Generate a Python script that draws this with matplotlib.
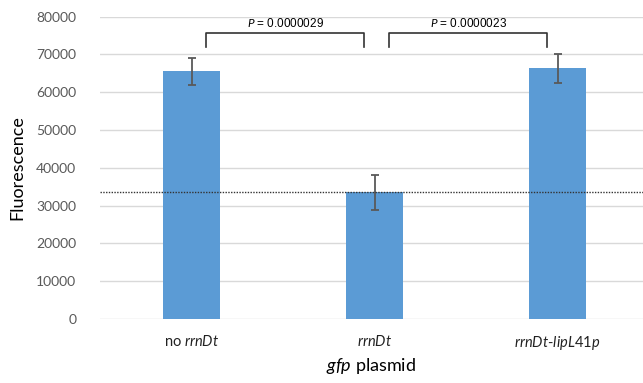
import matplotlib.pyplot as plt

# data
categories = ['no rrnDt', 'rrnDt', 'rrnDt-lipL41p']
fluorescence = [65600, 33500, 66300]
errors = [3600, 4700, 3950]
baseline = 33600
p_values = ['0.0000029', '0.0000023']
pairs = [(0, 1), (1, 2)]
y_ticks = [0, 10000, 20000, 30000, 40000, 50000, 60000, 70000, 80000]

tick_labels = [r'no $\it{rrnDt}$', r'$\it{rrnDt}$', r'$\it{rrnDt}$-$\it{lipL41p}$']

plt.rcParams['font.family'] = ['Lato', 'DejaVu Sans']
plt.rcParams['mathtext.fontset'] = 'custom'
plt.rcParams['mathtext.it'] = 'Lato:italic'
plt.rcParams['mathtext.rm'] = 'Lato'

fig = plt.figure(figsize=(6.43, 3.83), dpi=100)
ax = fig.add_axes([100 / 643, (383 - 319) / 383, 543 / 643, (319 - 16.7) / 383])

x = list(range(len(categories)))
ax.bar(x, fluorescence, width=0.31, color='#5B9BD5', zorder=2)
ax.errorbar(x, fluorescence, yerr=errors, fmt='none', ecolor='#595959',
            elinewidth=1.3, capsize=3, capthick=1.3, zorder=3)

ax.axhline(baseline, color='#333333', linestyle=(0, (1, 1)), linewidth=1, zorder=4)

# significance brackets
for (a, b), p in zip(pairs, p_values):
    x0 = a + 0.077
    x1 = b - 0.055
    ax.plot([x0, x0, x1, x1], [72000, 75700, 75700, 72000], color='#333333',
            linewidth=1.2, clip_on=False, zorder=5)
    ax.text((x0 + x1) / 2, 76500, r'$\it{P}$ = ' + p, ha='center', va='bottom',
            fontsize=8.5, family=['Liberation Sans'])

ax.set_xlim(-0.5, 2.467)
ax.set_ylim(0, 80000)
ax.set_yticks(y_ticks)
ax.set_xticks(x)
ax.set_xticklabels(tick_labels, fontsize=10.5, color='#222222')
ax.tick_params(axis='y', length=0, pad=17, labelsize=10, labelcolor='#595959')
ax.tick_params(axis='x', length=0, pad=11)
ax.grid(axis='y', color='#D9D9D9', linewidth=1, zorder=0)
for s in ax.spines.values():
    s.set_visible(False)

ax.set_ylabel('Fluorescence', fontsize=13, labelpad=8)
ax.set_xlabel(r'$\it{gfp}$ plasmid', fontsize=13, labelpad=3)

plt.savefig('out.png', dpi=100)
